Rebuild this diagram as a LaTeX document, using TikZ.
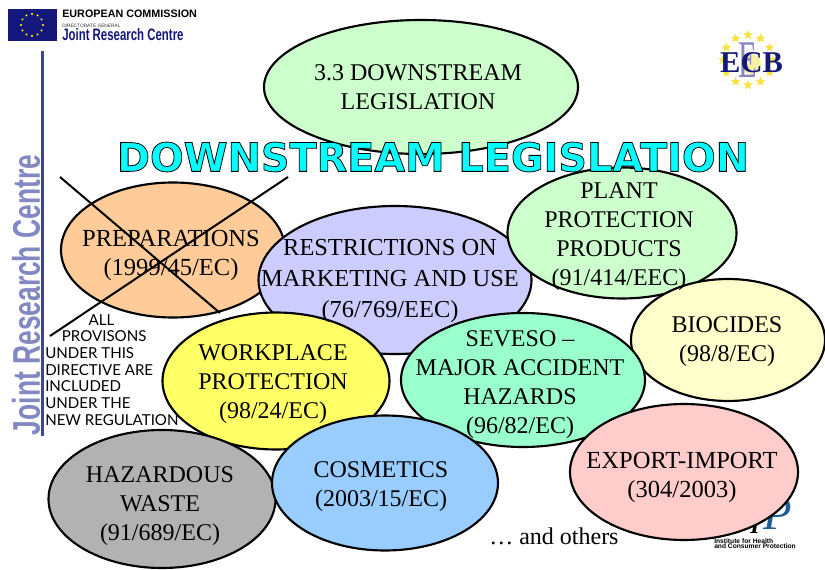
\documentclass[tikz,border=0pt]{standalone}
\usepackage{fontspec}
\usepackage{graphicx}
\setmainfont{Liberation Serif}
\newfontfamily\sansb{Liberation Sans}
\newfontfamily\thinhand{Lato}
\newfontfamily\titlefont[BoldFeatures={FakeBold=2}]{DejaVu Sans}
\usetikzlibrary{shapes.geometric}
\definecolor{lgreen}{HTML}{CCFFCC}
\definecolor{lorange}{HTML}{FFCC99}
\definecolor{lviolet}{HTML}{CCCCFF}
\definecolor{lyellow}{HTML}{FFFF66}
\definecolor{lmint}{HTML}{99FFCC}
\definecolor{lblue}{HTML}{99CCFF}
\definecolor{lgrey}{HTML}{B2B2B2}
\definecolor{lpink}{HTML}{FFCCCC}
\definecolor{paleyellow}{HTML}{FFFFCC}
\definecolor{titlecyan}{HTML}{00FFFF}
\definecolor{jrcbar}{HTML}{3F4595}
\definecolor{jrctext}{HTML}{8288C2}
\definecolor{ecblue}{HTML}{14187A}
\definecolor{ecbstar}{HTML}{F5E33C}
\definecolor{ecbpale}{HTML}{F7F2A0}
\definecolor{ecblav}{HTML}{8A84C0}
\definecolor{ihcpblue}{HTML}{1F5F95}
\tikzset{
  x=0.75pt,y=-0.75pt,
  oval/.style={ellipse,draw=black,line width=1.6pt,inner sep=0pt,minimum width=#1},
  oval/.default=100pt,
  lab/.style={align=center,inner sep=0pt,font=\fontsize{18}{21.75}\selectfont},
  labw/.style={align=center,inner sep=0pt,font=\fontsize{18.4}{21.75}\selectfont},
  crossline/.style={draw=black,line width=1.5pt},
  small/.style={inner sep=0pt,anchor=base west},
}
\newcommand{\ovalnode}[6]{%
  \node[oval=#4*0.75pt,minimum height=#5*0.75pt,fill=#6] (#1) at (#2,#3) {};}
\begin{document}
\begin{tikzpicture}
\useasboundingbox[fill=white] (0,0) rectangle (825,570);
% JRC logo
\fill[ecblue] (8,9) rectangle (57,41);
\foreach \a in {0,30,...,330}
  \node[star,star points=5,fill=yellow,inner sep=0pt,minimum size=1.8pt] (flag\a) at ({32+11*cos(\a)},{25+11*sin(\a)}) {};
\node[small,font=\sansb\bfseries\fontsize{9.2}{10}\selectfont] (ec) at (62,18) {\resizebox{101pt}{!}{EUROPEAN COMMISSION}};
\node[small,font=\sansb\fontsize{3.6}{4}\selectfont,text=black!80] (dg) at (62,28) {DIRECTORATE GENERAL};
\node[small,text=ecblue] (jrc) at (62,41) {\resizebox{91pt}{9pt}{\sansb\bfseries Joint Research Centre}};
\fill[jrcbar] (41,51) rectangle (44,436);
\node[inner sep=0pt,rotate=90,anchor=center,text=jrctext] (jrcv) at (26,295) {\resizebox{210pt}{21pt}{\sansb\bfseries Joint Research Centre}};
% ECB logo
\foreach \a in {0,30,...,330}
  \node[star,star points=5,star point ratio=2.4,fill=ecbstar,inner sep=0pt,minimum size=7.5pt] (ecbs\a) at ({748+25*cos(\a)},{60+25*sin(\a)}) {};
\fill[ecbpale] (751,64) circle (10);
\node[inner sep=0pt,text=ecblav] (ecbe) at (748,60) {\resizebox{14pt}{26pt}{\rmfamily E}};
\node[inner sep=0pt,text=ecblue] (ecbt) at (751.5,63) {\resizebox{47pt}{15pt}{\rmfamily\bfseries ECB}};
% IHCP logo
\node[small,font=\rmfamily\itshape\fontsize{35}{35}\selectfont,text=ihcpblue] (ihcpp) at (763,529) {P};
\node[small,font=\rmfamily\bfseries\itshape\fontsize{18}{18}\selectfont] (ihcpi) at (750,533) {I};
\node[small,font=\sansb\bfseries\fontsize{5}{5.5}\selectfont,align=left,anchor=north west] (ihcpt) at (714,538) {Institute for Health\\[-1.2pt]and Consumer Protection};
% Ovals
\ovalnode{top}{421}{87}{314}{134}{lgreen}
\ovalnode{prep}{173}{250}{224}{135}{lorange}
\ovalnode{restr}{395}{280}{273}{148}{lviolet}
\ovalnode{plant}{622}{233}{229}{131}{lgreen}
\ovalnode{bioc}{728}{340}{194}{122}{paleyellow}
\ovalnode{seveso}{523}{380}{244}{134}{lmint}
\ovalnode{work}{276}{381}{227}{137}{lyellow}
\ovalnode{haz}{162}{499}{227}{138}{lgrey}
\ovalnode{cosm}{385}{483}{226}{135}{lblue}
\ovalnode{exp}{684}{472}{228}{136}{lpink}
% Texts
\node[lab] (ttop) at (418,87) {3.3 DOWNSTREAM\\LEGISLATION};
\node[labw] (tprep) at (171,255) {PREPARATIONS\\(1999/45/EC)};
\node[labw,font=\fontsize{18.3}{23}\selectfont] (trestr) at (390,281) {RESTRICTIONS ON\\MARKETING AND USE\\(76/769/EEC)};
\node[lab] (tplant) at (619,237) {PLANT\\PROTECTION\\PRODUCTS\\(91/414/EEC)};
\node[lab] (tbioc) at (727,342) {BIOCIDES\\(98/8/EC)};
\node[lab] (tsev) at (520,385) {SEVESO –\\MAJOR ACCIDENT\\HAZARDS\\(96/82/EC)};
\node[lab] (twork) at (273,384) {WORKPLACE\\PROTECTION\\(98/24/EC)};
\node[lab] (tcosm) at (381,487) {COSMETICS\\(2003/15/EC)};
\node[lab] (thaz) at (160,506) {HAZARDOUS\\WASTE\\(91/689/EC)};
\node[labw] (texp) at (682,477) {EXPORT-IMPORT\\(304/2003)};
\node[lab,font=\fontsize{18}{21}\selectfont,anchor=base west] (tothers) at (489,544) {… and others};
% Note
\node[inner sep=0pt,align=left,anchor=north west,font=\thinhand\fontsize{11.3}{12.5}\selectfont] (note) at (45,314)
 {\hspace*{32.5pt}ALL\\\hspace*{12.5pt}PROVISONS\\UNDER THIS\\DIRECTIVE ARE\\INCLUDED\\UNDER THE\\NEW REGULATION};
% Cross
\coordinate (xa) at (60,177);
\coordinate (xb) at (220,313);
\coordinate (xc) at (288,177);
\coordinate (xd) at (50,336);
\draw[crossline] (xa) -- (xb);
\draw[crossline] (xc) -- (xd);
% Title
\node[inner sep=0pt] (title) at (433,157) {\resizebox{474pt}{22pt}{\textcolor{titlecyan}{\special{pdf:code 0 0 0 RG}\titlefont\bfseries DOWNSTREAM LEGISLATION}}};
\end{tikzpicture}
\end{document}
